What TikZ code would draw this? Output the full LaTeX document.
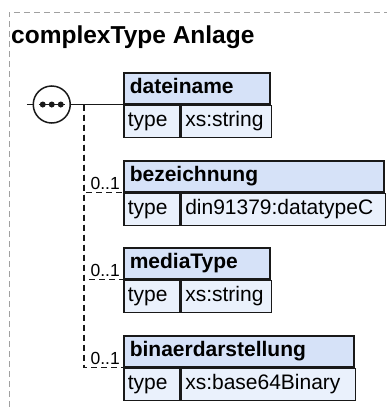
\documentclass[tikz,border=0pt]{standalone}
\usepackage{fontspec}
\setmainfont{Liberation Sans}
\usetikzlibrary{positioning, calc}
\definecolor{headblue}{RGB}{214,226,248}
\definecolor{rowblue}{RGB}{234,241,252}
\definecolor{framegray}{RGB}{160,160,160}
\definecolor{boxline}{RGB}{25,25,25}
\tikzstyle{head} = [draw=boxline,line width=1.5pt,fill=headblue,inner xsep=6pt,inner ysep=0pt,minimum height=31pt,text height=15pt,text depth=4pt,align=left,font=\fontsize{21}{25}\selectfont\bfseries]
\tikzstyle{typecell} = [draw=boxline,line width=1.5pt,fill=rowblue,inner xsep=4pt,inner ysep=0pt,minimum height=32pt,text height=15pt,text depth=4pt,text width=48pt,align=left,font=\fontsize{21}{25}\selectfont]
\tikzstyle{valcell} = [typecell,text width=82pt]
\tikzstyle{seq} = [circle,draw=boxline,line width=1.5pt,fill=white,minimum size=37pt,inner sep=0pt]
\tikzstyle{card} = [inner sep=0pt,text depth=0pt,font=\fontsize{17.5}{21}\selectfont]
\tikzstyle{reqline} = [line width=1.5pt,draw=boxline]
\tikzstyle{optline} = [line width=1.5pt,draw=boxline,dash pattern=on 6pt off 4pt]

\begin{document}
\begin{tikzpicture}[x=1pt,y=-1pt]
	\useasboundingbox (0,0) rectangle (387,407);
	\draw[framegray,line width=1pt,dash pattern=on 6pt off 4pt] (9,407) |- (387,12);

	\node[anchor=base west,inner sep=0pt,font=\fontsize{24.5}{29}\selectfont\bfseries] (title) at (11,43) {complexType Anlage};

	% the children of the sequence
	\node[head, anchor=north west, text width=134pt] (dateiname) at (123,72) {dateiname};
	\node[typecell, below right = 0pt and 0pt of dateiname.south west] (dateinametype) {type};
	\node[valcell, right = 0pt of dateinametype] (dateinameval) {xs:string};

	\node[head, below right = 22pt and 0pt of dateinametype.south west, text width=248pt] (bezeichnung) {bezeichnung};
	\node[typecell, below right = 0pt and 0pt of bezeichnung.south west] (bezeichnungtype) {type};
	\node[valcell, right = 0pt of bezeichnungtype, text width=196pt] (bezeichnungval) {din91379:datatypeC};

	\node[head, below right = 21pt and 0pt of bezeichnungtype.south west, text width=134pt] (mediatype) {mediaType};
	\node[typecell, below right = 0pt and 0pt of mediatype.south west] (mediatypetype) {type};
	\node[valcell, right = 0pt of mediatypetype] (mediatypeval) {xs:string};

	\node[head, below right = 22pt and 0pt of mediatypetype.south west, text width=218pt] (binaer) {binaerdarstellung};
	\node[typecell, below right = 0pt and 0pt of binaer.south west] (binaertype) {type};
	\node[valcell, right = 0pt of binaertype, text width=166pt] (binaerval) {xs:base64Binary};

	\node[card, above left = 3pt and 3pt of bezeichnung.south west] (bezeichnungcard) {0..1};
	\node[card, above left = 3pt and 3pt of mediatype.south west] (mediatypecard) {0..1};
	\node[card, above left = 3pt and 3pt of binaer.south west] (binaercard) {0..1};

	% the sequence, on the level of the first child
	\node[seq, left = 52pt of dateiname.south west] (seq) {};

	% now link the nodes
	\coordinate[left = 25pt of seq.center] (start);
	\coordinate[left = 39pt of dateiname.south west] (fork);
	\draw[reqline] (start) -- (seq.west);
	\draw[reqline] (seq.east) -- (dateiname.south west);
	\draw[optline] (fork) |- (bezeichnung.south west);
	\draw[optline] (fork) |- (mediatype.south west);
	\draw[optline] (fork) |- (binaer.south west);

	% dots of the sequence
	\draw[line width=1.2pt,boxline] ([xshift=-13pt]seq.center) -- ([xshift=13pt]seq.center);
	\foreach \dx in {-9,0,9}
		\fill[boxline] ([xshift=\dx pt]seq.center) circle (3pt);

\end{tikzpicture}
\end{document}
